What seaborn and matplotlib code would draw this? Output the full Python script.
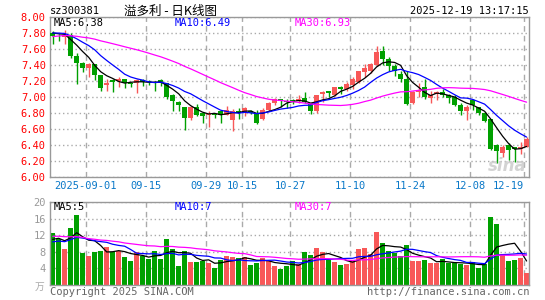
import numpy as np
import pandas as pd
import matplotlib
matplotlib.use('Agg')
import matplotlib.pyplot as plt
import seaborn as sns

# 溢多利 sz300381 日K, 2025-08-22 ~ 2025-12-19 (80个交易日)
opens = [7.80, 7.78, 7.75, 7.78, 7.51, 7.42, 7.36, 7.41, 7.27, 7.15,
         7.21, 7.20, 7.22, 7.18, 7.18, 7.21, 7.20, 7.19, 7.21, 7.17,
         7.03, 6.94, 6.87, 6.74, 6.88, 6.80, 6.77, 6.79, 6.82, 6.78,
         6.71, 6.83, 6.80, 6.83, 6.80, 6.72, 6.84, 6.92, 6.97, 6.95,
         6.96, 6.95, 6.99, 6.92, 6.82, 7.04, 7.07, 7.03, 7.13, 7.10,
         7.15, 7.19, 7.31, 7.32, 7.40, 7.58, 7.48, 7.39, 7.29, 7.23,
         6.93, 7.06, 7.13, 6.99, 7.04, 7.06, 7.02, 7.00, 6.90, 6.83,
         6.96, 6.87, 6.80, 6.72, 6.40, 6.30, 6.40, 6.37, 6.35, 6.38]
highs = [7.82, 7.79, 7.84, 7.80, 7.55, 7.44, 7.43, 7.41, 7.28, 7.22,
         7.22, 7.25, 7.22, 7.19, 7.23, 7.23, 7.21, 7.20, 7.22, 7.18,
         7.04, 6.95, 6.88, 6.89, 6.91, 6.81, 6.82, 6.80, 6.83, 6.89,
         6.85, 6.86, 6.88, 6.84, 6.84, 6.86, 6.94, 6.99, 6.98, 6.98,
         6.97, 7.02, 7.06, 6.92, 7.03, 7.08, 7.08, 7.13, 7.14, 7.19,
         7.25, 7.33, 7.41, 7.43, 7.64, 7.64, 7.50, 7.41, 7.32, 7.32,
         7.07, 7.17, 7.23, 7.07, 7.07, 7.10, 7.04, 7.02, 6.92, 6.90,
         6.97, 6.88, 6.81, 6.73, 6.41, 6.40, 6.42, 6.38, 6.44, 6.50]
lows = [7.66, 7.70, 7.66, 7.49, 7.16, 7.31, 7.25, 7.21, 7.07, 7.07,
        7.06, 7.12, 7.11, 7.13, 7.05, 7.14, 7.15, 7.08, 7.14, 6.97,
        6.83, 6.83, 6.59, 6.71, 6.76, 6.68, 6.63, 6.74, 6.68, 6.77,
        6.58, 6.73, 6.76, 6.79, 6.66, 6.71, 6.82, 6.90, 6.88, 6.86,
        6.91, 6.93, 6.92, 6.79, 6.80, 6.94, 7.00, 7.01, 7.04, 7.07,
        7.10, 7.17, 7.25, 7.30, 7.39, 7.40, 7.32, 7.26, 7.19, 6.90,
        6.91, 7.00, 6.98, 6.92, 6.96, 7.00, 6.92, 6.89, 6.78, 6.71,
        6.84, 6.77, 6.69, 6.34, 6.17, 6.25, 6.21, 6.19, 6.29, 6.37]
closes = [7.76, 7.77, 7.77, 7.51, 7.43, 7.36, 7.41, 7.27, 7.11, 7.18,
          7.19, 7.22, 7.17, 7.16, 7.21, 7.19, 7.19, 7.18, 7.17, 7.00,
          6.95, 6.90, 6.74, 6.87, 6.78, 6.76, 6.79, 6.78, 6.78, 6.84,
          6.83, 6.80, 6.86, 6.80, 6.68, 6.84, 6.92, 6.97, 6.95, 6.94,
          6.94, 6.98, 6.94, 6.82, 7.02, 7.06, 7.05, 7.12, 7.10, 7.16,
          7.23, 7.32, 7.36, 7.41, 7.56, 7.48, 7.39, 7.32, 7.23, 6.91,
          7.06, 7.09, 7.00, 7.03, 7.06, 7.02, 6.99, 6.90, 6.83, 6.88,
          6.90, 6.80, 6.70, 6.35, 6.33, 6.37, 6.34, 6.35, 6.38, 6.47]
# 成交量(万手)
vols = [12.6, 11.1, 8.6, 13.8, 16.9, 7.7, 7.0, 7.9, 8.1, 9.1,
        8.0, 8.3, 6.7, 5.8, 7.9, 6.9, 6.3, 8.2, 6.3, 11.2,
        8.6, 4.6, 8.3, 5.5, 5.5, 5.7, 5.3, 4.2, 6.0, 7.0,
        6.7, 6.4, 6.7, 4.8, 5.2, 6.6, 5.9, 4.6, 3.9, 4.6,
        5.7, 5.0, 7.9, 7.2, 8.9, 7.9, 6.0, 5.5, 4.9, 5.1,
        6.0, 8.6, 8.8, 7.4, 12.7, 10.2, 8.1, 7.8, 6.9, 9.7,
        5.7, 5.9, 6.0, 5.2, 5.2, 6.2, 5.2, 5.2, 5.0, 4.8,
        5.5, 4.2, 5.0, 16.3, 14.7, 7.4, 5.8, 6.1, 6.6, 3.0]
# 窗口之前29天, 只用来算均线
hist_close = [7.55, 7.60, 7.58, 7.65, 7.70, 7.68, 7.72, 7.75, 7.70, 7.74,
              7.78, 7.76, 7.72, 7.77, 7.80, 7.85, 7.88, 7.84, 7.80, 7.79,
              7.78, 7.82, 7.80, 7.80, 7.80, 7.82, 7.80, 7.84, 7.78]
hist_vol = [10.5, 12.0, 14.5, 16.0, 13.2, 15.8, 12.4, 14.0, 11.6, 13.5,
            12.8, 15.2, 11.0, 13.1, 12.2, 10.8, 9.6, 11.4, 8.9, 9.5,
            9.2, 10.1, 8.8, 11.5, 9.4, 9.8, 11.6, 10.2, 10.8]

tick_idx = [6, 16, 26, 32, 40, 50, 60, 70, 79]
tick_lab = ['2025-09-01', '09-15', '09-29', '10-15', '10-27',
            '11-10', '11-24', '12-08', '12-19']

sns.set_style('white')
plt.rcParams['font.family'] = ['DejaVu Sans Mono', 'Noto Sans CJK SC']

RED = '#f85858'
GREEN = '#00a000'
GRID = '#aaaaaa'

n = len(closes)
df = pd.DataFrame({'i': np.arange(n), 'open': opens, 'high': highs,
                   'low': lows, 'close': closes, 'vol': vols})
c_all = pd.Series(hist_close + closes)
v_all = pd.Series(hist_vol + vols)
for w in (5, 10, 30):
    df['ma%d' % w] = c_all.rolling(w).mean().iloc[-n:].values
    df['vma%d' % w] = v_all.rolling(w).mean().iloc[-n:].values
df['color'] = np.where(df.close >= df.open, RED, GREEN)

fig = plt.figure(figsize=(5.45, 3.0), dpi=100)
W, H = 545.0, 300.0
ax = fig.add_axes([50 / W, 123 / H, 479 / W, 160 / H])
ax2 = fig.add_axes([50 / W, 15 / H, 479 / W, 83 / H])

# K线
ax.vlines(df.i, df.low, df.high, colors=df.color, lw=1, zorder=2)
body = (df.close - df.open).abs().clip(lower=0.008)
ax.bar(df.i, body, bottom=df[['open', 'close']].min(axis=1), width=0.8,
       color=df.color, linewidth=0, zorder=3)
ma_cols = [('ma5', 'black'), ('ma10', '#0000ff'), ('ma30', '#ff00ff')]
for col, c in ma_cols:
    sns.lineplot(x=df.i, y=df[col], ax=ax, color=c, lw=0.9, zorder=4)

# 成交量
ax2.bar(df.i, df.vol, width=0.8, color=df.color, linewidth=0, zorder=2)
for col, c in ma_cols:
    sns.lineplot(x=df.i, y=df['v' + col], ax=ax2, color=c, lw=0.9, zorder=4)

for a in (ax, ax2):
    a.set_xlim(-0.45, 79.4)
    a.set_xlabel('')
    a.set_ylabel('')
    a.set_xticks([t - 0.45 for t in tick_idx])
    a.grid(True, axis='x', color=GRID, ls=(0, (4, 3)), lw=1)
    a.grid(True, axis='y', color=GRID, ls=(0, (1, 2)), lw=1)
    for s in a.spines.values():
        s.set_color('#999999')
        s.set_linewidth(1)
    a.tick_params(length=0)

ax.set_ylim(6.0, 8.0)
yt = np.round(np.arange(6.0, 8.01, 0.2), 2)
ax.set_yticks(yt)
ax.set_yticklabels(['%.2f' % v for v in yt])
ax.set_xticklabels(tick_lab)
ax.get_xticklabels()[-1].set_ha('right')   # 最后一个日期靠右对齐, 不出边框
ax.tick_params(axis='y', labelcolor='#ff0000', labelsize=7.5, pad=3)
ax.tick_params(axis='x', labelcolor='#0a78c8', labelsize=7.5, pad=3)

ax2.set_ylim(0, 20)
ax2.set_yticks([4, 8, 12, 16, 20])
ax2.set_yticklabels(['4', '8', '12', '16', '20'])
ax2.set_xticklabels([])
ax2.tick_params(axis='y', labelcolor='#999999', labelsize=7.5, pad=3)


def ptext(x, y, s, **kw):
    fig.text(x / W, 1 - y / H, s, va='center', **kw)


ptext(50, 11, 'sz300381', fontsize=7.5, color='black')
ptext(171, 11, '溢多利 - 日K线图', fontsize=9, ha='center', color='black',
      family=['Noto Sans CJK SC', 'DejaVu Sans'])
ptext(529, 11, '2025-12-19 13:17:15', fontsize=7.5, ha='right', color='black')
ptext(54, 23, 'MA5:6.38', fontsize=7.5, color='black')
ptext(175, 23, 'MA10:6.49', fontsize=7.5, color='#0000ff')
ptext(295, 23, 'MA30:6.93', fontsize=7.5, color='#ff00ff')
ptext(54, 207, 'MA5:5', fontsize=7.5, color='black')
ptext(175, 207, 'MA10:7', fontsize=7.5, color='#0000ff')
ptext(295, 207, 'MA30:7', fontsize=7.5, color='#ff00ff')
ptext(44, 287, '万', fontsize=7, ha='right', color='#aaaaaa', style='italic',
      family=['Noto Sans CJK SC', 'DejaVu Sans'])
ptext(50, 292, 'Copyright 2025 SINA.COM', fontsize=7.5, color='#666666')
ptext(529, 292, 'http://finance.sina.com.cn', fontsize=7.5, ha='right',
      color='#666666')
ptext(507, 166, 'sina', fontsize=12, ha='center', color='#c8c8c8',
      style='italic', weight='bold', family='DejaVu Sans', alpha=0.8)

fig.savefig('out.png', dpi=100)
